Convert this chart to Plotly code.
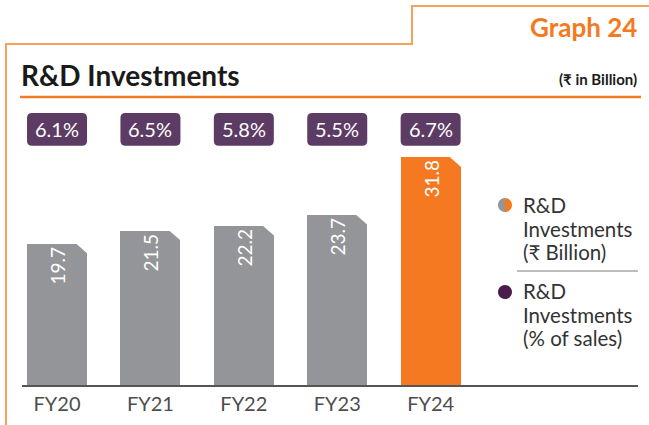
import plotly.graph_objects as go

# ---- data ----
years = ["FY20", "FY21", "FY22", "FY23", "FY24"]
rd_invest = [19.7, 21.5, 22.2, 23.7, 31.8]          # ₹ Billion
rd_pct = [6.1, 6.5, 5.8, 5.5, 6.7]                  # % of sales

GRAY = "#939598"
ORANGE = "#f47920"
PURPLE_BADGE = "#5c3b64"
PURPLE_DOT = "#4b1d4f"
BORDER = "#f5a25d"
FONT = "Lato, 'Open Sans', sans-serif"

W, H = 649, 425
ML, MR, MT, MB = 22, 11, 100, 40
PW = W - ML - MR
PH = H - MT - MB
YMAX = 39.8
XMIN, XMAX = -0.375, 6.22
xs_per_px = (XMAX - XMIN) / PW
ys_per_px = YMAX / PH


def px(x):
    return (x - ML) / PW


def py(y):
    return (H - MB - y) / PH


n = len(years)
xpos = list(range(n))
colors = [GRAY] * (n - 1) + [ORANGE]
bar_w = 60 * xs_per_px

fig = go.Figure()
fig.add_trace(go.Bar(
    x=xpos, y=rd_invest, width=bar_w,
    marker=dict(color=colors, line=dict(width=0)),
    text=[f"{v:.1f}" for v in rd_invest],
    textposition="inside", insidetextanchor="end", textangle=-90,
    textfont=dict(color="white", size=19, family=FONT),
    cliponaxis=False, hoverinfo="skip", showlegend=False,
))

shapes = []
# chamfered top-right corners
cdx, cdy = 11 * xs_per_px, 11 * ys_per_px
for xi, v in zip(xpos, rd_invest):
    r = xi + bar_w / 2
    shapes.append(dict(
        type="path", xref="x", yref="y",
        path=f"M {r - cdx},{v + 0.05} L {r + 0.02},{v + 0.05} L {r + 0.02},{v - cdy} Z",
        fillcolor="white", line=dict(width=0), layer="above"))

# percentage badges
by0, by1 = 33.4, 38.0
rx, ry = 5 * xs_per_px, 5 * ys_per_px
annotations = []
for xi, p in zip(xpos, rd_pct):
    x0, x1 = xi - bar_w / 2, xi + bar_w / 2
    path = (f"M {x0 + rx},{by0} L {x1 - rx},{by0} Q {x1},{by0} {x1},{by0 + ry} "
            f"L {x1},{by1 - ry} Q {x1},{by1} {x1 - rx},{by1} L {x0 + rx},{by1} "
            f"Q {x0},{by1} {x0},{by1 - ry} L {x0},{by0 + ry} Q {x0},{by0} {x0 + rx},{by0} Z")
    shapes.append(dict(type="path", xref="x", yref="y", path=path,
                       fillcolor=PURPLE_BADGE, line=dict(width=0)))
    annotations.append(dict(x=xi, y=(by0 + by1) / 2, xref="x", yref="y",
                            text=f"{p}%", showarrow=False,
                            font=dict(color="white", size=20, family=FONT)))

# frame lines
line_b = dict(color=BORDER, width=2)
shapes += [
    dict(type="line", xref="paper", yref="paper", x0=px(6), x1=px(6), y0=py(44), y1=py(430), line=line_b),
    dict(type="line", xref="paper", yref="paper", x0=px(5), x1=px(413), y0=py(44), y1=py(44), line=line_b),
    dict(type="line", xref="paper", yref="paper", x0=px(412), x1=px(412), y0=py(5), y1=py(44), line=line_b),
    dict(type="line", xref="paper", yref="paper", x0=px(411), x1=px(655), y0=py(6), y1=py(6), line=line_b),
    # title underline
    dict(type="line", xref="paper", yref="paper", x0=px(20), x1=px(641), y0=py(97), y1=py(97),
         line=dict(color=ORANGE, width=2.5)),
    # legend separator
    dict(type="line", xref="paper", yref="paper", x0=px(517), x1=px(638), y0=py(271), y1=py(271),
         line=dict(color="#a7a7a7", width=1.5)),
]

# legend markers
r = 7
k = 0.5523 * r
lx = px(505)
for cy, left, right in [(205, GRAY, ORANGE), (292, PURPLE_DOT, PURPLE_DOT)]:
    ly = py(cy)
    shapes.append(dict(type="path", xref="paper", yref="paper", xsizemode="pixel", ysizemode="pixel",
                       xanchor=lx, yanchor=ly,
                       path=f"M 0,{-r} C {k},{-r} {r},{-k} {r},0 C {r},{k} {k},{r} 0,{r} Z",
                       fillcolor=right, line=dict(width=0)))
    shapes.append(dict(type="path", xref="paper", yref="paper", xsizemode="pixel", ysizemode="pixel",
                       xanchor=lx, yanchor=ly,
                       path=f"M 0,{-r} C {-k},{-r} {-r},{-k} {-r},0 C {-r},{k} {-k},{r} 0,{r} Z",
                       fillcolor=left, line=dict(width=0)))

legend_lines = [(205, "R&D"), (228.5, "Investments"), (252, "(₹ Billion)"),
                (291, "R&D"), (314.5, "Investments"), (338, "(% of sales)")]
for yc, t in legend_lines:
    annotations.append(dict(x=px(521), y=py(yc), xref="paper", yref="paper",
                            xanchor="left", yanchor="middle", align="left", showarrow=False,
                            text=t, font=dict(size=20.5, color="#333333", family=FONT)))

# titles
annotations += [
    dict(x=px(19), y=py(75), xref="paper", yref="paper", xanchor="left", yanchor="middle",
         text="<b>R&D Investments</b>", showarrow=False,
         font=dict(size=28, color="#1a1a1a", family=FONT)),
    dict(x=px(639), y=py(79), xref="paper", yref="paper", xanchor="right", yanchor="middle",
         text="<b>(₹ in Billion)</b>", showarrow=False,
         font=dict(size=15, color="#1a1a1a", family=FONT)),
    dict(x=px(583), y=py(27), xref="paper", yref="paper", xanchor="center", yanchor="middle",
         text="<b>Graph 24</b>", showarrow=False,
         font=dict(size=26, color=ORANGE, family=FONT)),
]

fig.update_layout(
    width=W, height=H,
    margin=dict(l=ML, r=MR, t=MT, b=MB, pad=0),
    paper_bgcolor="white", plot_bgcolor="white",
    shapes=shapes, annotations=annotations,
    showlegend=False, bargap=0,
    font=dict(family=FONT),
    xaxis=dict(range=[XMIN, XMAX], tickvals=xpos, ticktext=years, showgrid=False, zeroline=False,
               showline=True, linecolor="#555555", linewidth=1.5, ticks="",
               tickfont=dict(size=20, color="#4d4d4d", family=FONT), fixedrange=True),
    yaxis=dict(range=[0, YMAX], visible=False, showgrid=False, zeroline=False, fixedrange=True),
)

fig.write_html("out.html", config={"displayModeBar": False},
               post_script="document.body.style.margin='0';document.body.style.padding='0';")
